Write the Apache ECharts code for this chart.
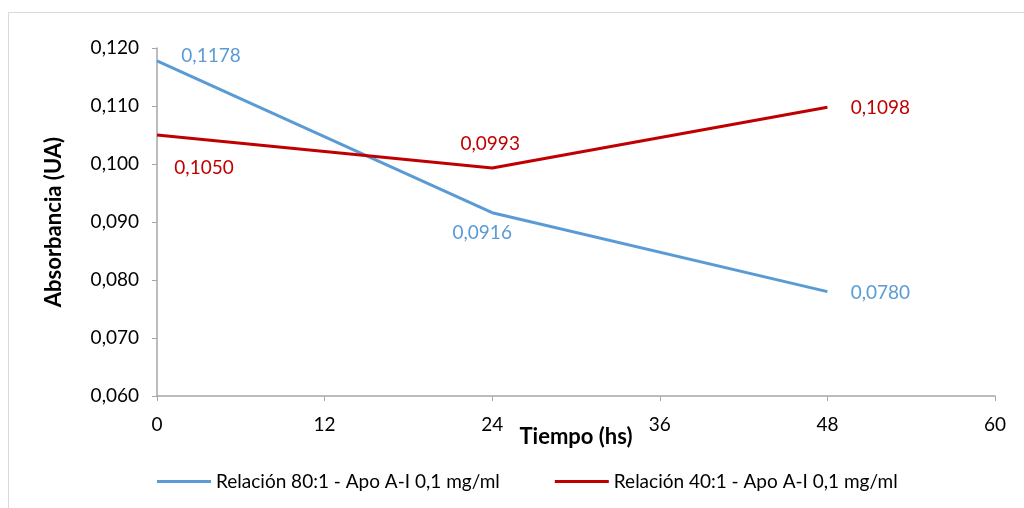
<!DOCTYPE html>
<html>
<head>
<meta charset="utf-8">
<script src="https://cdn.jsdelivr.net/npm/echarts@6/dist/echarts.min.js"></script>
<style>
  html, body { margin: 0; padding: 0; background: #fff; }
  #chart { width: 1024px; height: 508px; }
</style>
</head>
<body>
<div id="chart"></div>
<script>
// datos
var horas = [0, 24, 48];
var relacion80 = [0.1178, 0.0916, 0.0780];
var relacion40 = [0.1050, 0.0993, 0.1098];
var nombres = ['Relación 80:1 - Apo A-I 0,1 mg/ml', 'Relación 40:1 - Apo A-I 0,1 mg/ml'];

// desplazamiento de las etiquetas respecto del punto
var offs80 = [[54, -5], [-10, 20], [53, 1]];
var offs40 = [[47, 33], [-2, -24], [53, 1]];

var fuente = 'Lato';

function armar(vals, offs) {
  return vals.map(function (v, i) {
    return {
      value: [horas[i], v],
      label: { offset: offs[i] }
    };
  });
}

function coma(v, d) {
  return v.toFixed(d).replace('.', ',');
}

var myChart = echarts.init(document.getElementById('chart'));

var option = {
  backgroundColor: '#fff',
  animation: false,
  textStyle: { fontFamily: fuente },
  graphic: [{
    type: 'rect',
    shape: { x: 8.5, y: 12.5, width: 1100, height: 600 },
    style: { fill: 'none', stroke: '#d9d9d9', lineWidth: 1 },
    silent: true
  }],
  grid: { left: 157, right: 29, top: 48, bottom: 112 },
  legend: {
    left: 152,
    top: 467,
    icon: 'rect',
    itemWidth: 54,
    itemHeight: 3,
    itemGap: 55,
    textStyle: { fontFamily: fuente, fontSize: 19, color: '#000' },
    data: nombres
  },
  xAxis: {
    type: 'value',
    min: 0, max: 60, interval: 12,
    name: 'Tiempo (hs)',
    nameLocation: 'middle',
    nameGap: 30,
    nameMoveOverlap: false,
    nameTextStyle: { fontFamily: fuente, fontSize: 22, fontWeight: 'bold', color: '#000' },
    axisLine: { lineStyle: { color: '#a6a6a6', width: 1.5 } },
    axisTick: { show: true, length: 5, lineStyle: { color: '#a6a6a6' } },
    axisLabel: { fontSize: 19, color: '#000', margin: 19 },
    splitLine: { show: false }
  },
  yAxis: {
    type: 'value',
    min: 0.06, max: 0.12, interval: 0.01,
    name: 'Absorbancia (UA)',
    nameLocation: 'middle',
    nameGap: 92,
    nameRotate: 90,
    nameMoveOverlap: false,
    nameTextStyle: { fontFamily: fuente, fontSize: 22, fontWeight: 'bold', color: '#000' },
    axisLine: { show: true, lineStyle: { color: '#a6a6a6', width: 1.5 } },
    axisTick: { show: true, length: 5, lineStyle: { color: '#a6a6a6' } },
    axisLabel: {
      fontSize: 19, color: '#000', margin: 18,
      formatter: function (v) { return coma(v, 3); }
    },
    splitLine: { show: false }
  },
  series: [
    {
      name: nombres[0],
      type: 'line',
      data: armar(relacion80, offs80),
      symbol: 'circle',
      symbolSize: 0,
      lineStyle: { color: '#5b9bd5', width: 3 },
      itemStyle: { color: '#5b9bd5' },
      label: {
        show: true,
        position: 'inside',
        color: '#5b9bd5',
        fontSize: 19,
        formatter: function (p) { return coma(p.value[1], 4); }
      }
    },
    {
      name: nombres[1],
      type: 'line',
      data: armar(relacion40, offs40),
      symbol: 'circle',
      symbolSize: 0,
      lineStyle: { color: '#c00000', width: 3 },
      itemStyle: { color: '#c00000' },
      label: {
        show: true,
        position: 'inside',
        color: '#c00000',
        fontSize: 19,
        formatter: function (p) { return coma(p.value[1], 4); }
      }
    }
  ]
};

myChart.setOption(option);
window.addEventListener('resize', function () { myChart.resize(); });
</script>
</body>
</html>
